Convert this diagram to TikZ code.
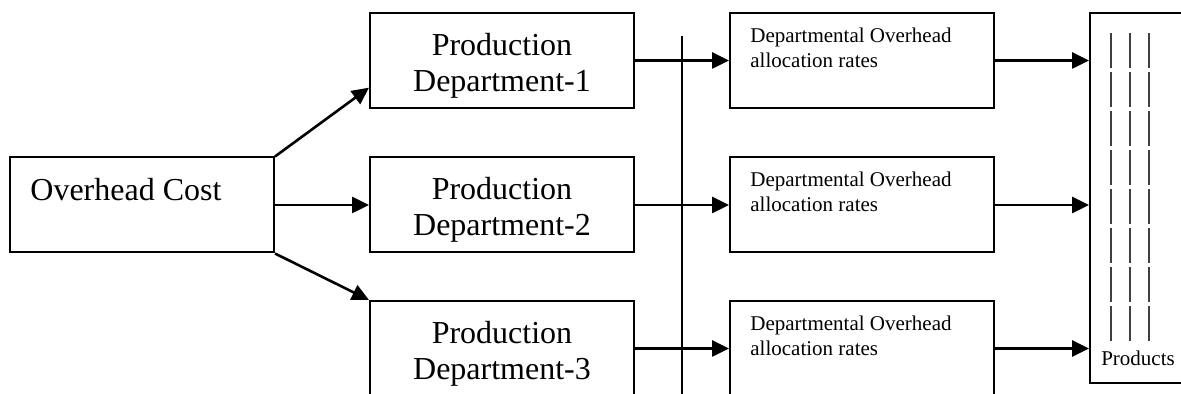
\documentclass[tikz,border=0pt]{standalone}
\usepackage{fontspec}
\setmainfont{Liberation Serif}
\usetikzlibrary{arrows.meta,positioning,calc}

\tikzset{
  box/.style={draw, line width=1pt, inner sep=0pt, minimum width=132pt, minimum height=47.5pt},
  bigtxt/.style={font=\fontsize{16}{18}\selectfont, inner sep=0pt},
  smalltxt/.style={font=\fontsize{10.5}{12.5}\selectfont, inner sep=0pt, align=left},
  flow/.style={-{Triangle[length=8.5pt,width=8pt]}, line width=1.3pt},
}

\begin{document}
\begin{tikzpicture}[x=0.5pt,y=-0.5pt]
  \useasboundingbox (0,0) rectangle (1181,394);
  \clip (0,0) rectangle (1181,394);
  % overhead cost pool
  \node[box] (oc) at (142,205) {};
  \node[bigtxt, below right=10.5pt and 10.5pt of oc.north west] (octxt) {Overhead Cost};
  % production departments and their rates
  \foreach \i/\y in {1/60.5,2/205,3/348.5}{
    \node[box] (pd\i) at (502,\y) {};
    \node[bigtxt, align=center] (pdtxt\i) at ([yshift=-2.5pt]pd\i.center) {Production\\Department-\i};
    \node[box] (dr\i) at (862,\y) {};
    \node[smalltxt, below right=7.75pt and 10.5pt of dr\i.north west] (drtxt\i) {Departmental Overhead\\allocation rates};
  }
  % products
  \node[box, minimum width=55pt, minimum height=185pt] (prod) at (1145,198) {};
  \foreach \x in {1111,1130,1149}
    \draw[black!75, line width=0.8pt, dash pattern=on 17.5pt off 2pt] (\x,33) -- (\x,343);
  \node[smalltxt, anchor=base] (prodtxt) at (1138,365) {Products};
  % common line between departments and rates
  \coordinate (bustop) at (682,36);
  \coordinate (busbot) at (682,400);
  \draw[line width=1pt] (bustop) -- (busbot);
  % arrows
  \draw[flow] (oc.north east) -- ($(pd1.south west)!0.22!(pd1.north west)$);
  \draw[flow] (oc.east) -- (pd2.west);
  \draw[flow] (oc.south east) -- (pd3.north west);
  \foreach \i in {1,2,3}{
    \draw[flow] (pd\i.east) -- (dr\i.west);
    \draw[flow] (dr\i.east) -- (prod.west |- dr\i.east);
  }
\end{tikzpicture}
\end{document}
